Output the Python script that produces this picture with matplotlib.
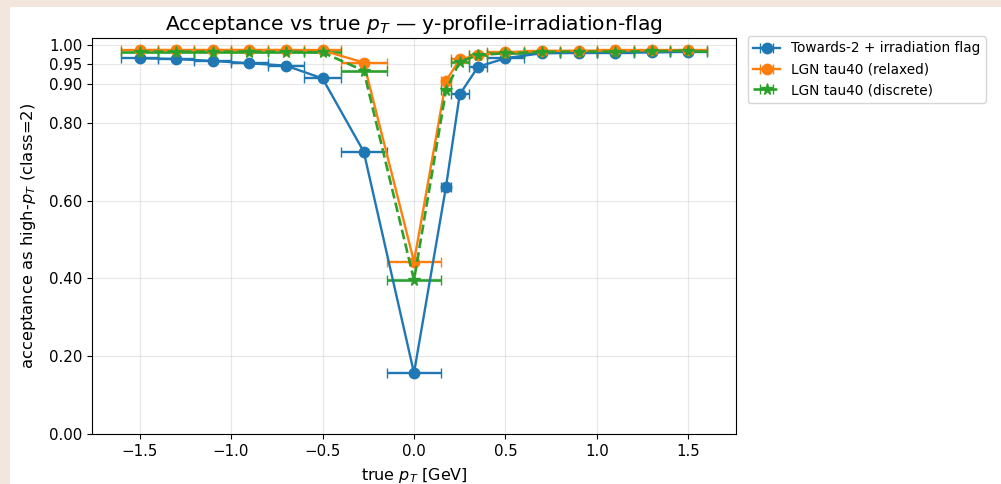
import matplotlib
matplotlib.use("Agg")
import matplotlib.pyplot as plt
from matplotlib.patches import Rectangle

# bin edges / centers (true pT, GeV)
x_centers = [-1.5, -1.3, -1.1, -0.9, -0.7, -0.5, -0.275, 0.0, 0.175, 0.25, 0.35,
             0.5, 0.7, 0.9, 1.1, 1.3, 1.5]
x_lo = [-1.6, -1.4, -1.2, -1.0, -0.8, -0.6, -0.4, -0.15, 0.15, 0.2, 0.3,
        0.4, 0.6, 0.8, 1.0, 1.2, 1.4]
x_hi = [-1.4, -1.2, -1.0, -0.8, -0.6, -0.4, -0.15, 0.15, 0.2, 0.3, 0.4,
        0.6, 0.8, 1.0, 1.2, 1.4, 1.6]

acc_towards = [0.966, 0.964, 0.959, 0.953, 0.947, 0.914, 0.726, 0.157, 0.636, 0.873, 0.944,
               0.966, 0.979, 0.980, 0.980, 0.981, 0.983]
acc_relaxed = [0.987, 0.987, 0.987, 0.987, 0.987, 0.986, 0.955, 0.443, 0.908, 0.963, 0.974,
               0.981, 0.985, 0.985, 0.986, 0.986, 0.987]
acc_discrete = [0.983, 0.983, 0.983, 0.983, 0.983, 0.981, 0.934, 0.396, 0.884, 0.957, 0.974,
                0.979, 0.982, 0.983, 0.983, 0.984, 0.985]

labels = ["Towards-2 + irradiation flag", "LGN tau40 (relaxed)", "LGN tau40 (discrete)"]
yticks = [0.0, 0.2, 0.4, 0.6, 0.8, 0.9, 0.95, 1.0]

xerr = [[c - lo for c, lo in zip(x_centers, x_lo)],
        [hi - c for c, hi in zip(x_centers, x_hi)]]

fig = plt.figure(figsize=(10.01, 4.84), dpi=100, facecolor="#f3e6dc")
fig.patches.append(Rectangle((10 / 1001, 0), 1, 1 - 7 / 484, transform=fig.transFigure,
                             facecolor="white", edgecolor="none", zorder=-5))
ax = fig.add_axes([92 / 1001, 1 - 434 / 484, (736 - 92) / 1001, (434 - 38) / 484])
ax.set_zorder(1)

ax.errorbar(x_centers, acc_towards, xerr=xerr, fmt="-o", color="#1f77b4",
            lw=1.7, ms=7.5, capsize=3.5, label=labels[0])
ax.errorbar(x_centers, acc_relaxed, xerr=xerr, fmt="-o", color="#ff7f0e",
            lw=1.7, ms=7.5, capsize=3.5, label=labels[1])
ax.errorbar(x_centers, acc_discrete, xerr=xerr, fmt="--*", color="#2ca02c",
            lw=1.9, ms=8.5, capsize=3.5, label=labels[2])

ax.set_ylim(0, 1.018)
ax.set_xlim(-1.76, 1.76)
ax.set_yticks(yticks)
ax.set_yticklabels([f"{v:.2f}" for v in yticks])
ax.tick_params(labelsize=10.8)
ax.grid(True, alpha=0.3)
ax.set_xlabel("true $p_T$ [GeV]", fontsize=11.5, labelpad=5)
ax.set_ylabel("acceptance as high-$p_T$ (class=2)", fontsize=11.8, labelpad=8)
ax.set_title("Acceptance vs true $p_T$ — y-profile-irradiation-flag", fontsize=14.6)
ax.legend(loc="upper left", bbox_to_anchor=(1.018, 1.005), borderaxespad=0, fontsize=9.8)

fig.savefig("out.png", dpi=100, facecolor=fig.get_facecolor())
